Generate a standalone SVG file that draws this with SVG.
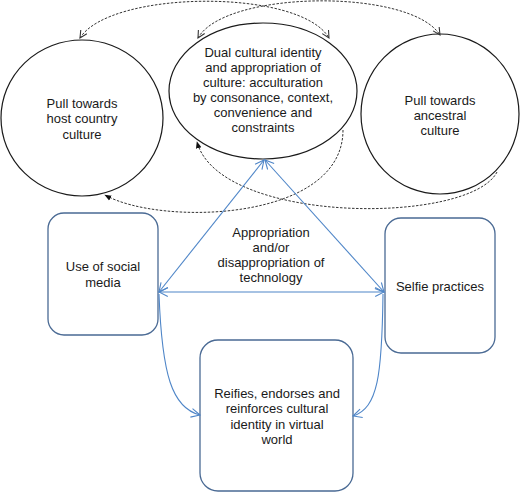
<svg xmlns="http://www.w3.org/2000/svg" width="520" height="493" viewBox="0 0 520 493">
<defs>
<style>
text{font-family:"Liberation Sans",Arial,sans-serif;font-size:13px;fill:#1a1a1a;text-anchor:middle}
.ell{fill:#fff;stroke:#1a1a1a;stroke-width:1.2}
.box{fill:#fff;stroke:#4a6a94;stroke-width:1.3}
.dash{fill:none;stroke:#333;stroke-width:1;stroke-dasharray:2.5,1.5}
.blue{fill:none;stroke:#4f86c8;stroke-width:1.1}
</style>
<marker id="vk" viewBox="0 0 10 10" refX="9" refY="5" markerWidth="9" markerHeight="9" markerUnits="userSpaceOnUse" orient="auto-start-reverse"><path d="M1,1 L9,5 L1,9" fill="none" stroke="#333" stroke-width="1.2"/></marker>
<marker id="fk" viewBox="0 0 10 10" refX="9" refY="5" markerWidth="7" markerHeight="7" markerUnits="userSpaceOnUse" orient="auto"><path d="M0,1 L10,5 L0,9 Z" fill="#111"/></marker>
<marker id="vb" viewBox="0 0 10 10" refX="9" refY="5" markerWidth="11" markerHeight="11" markerUnits="userSpaceOnUse" orient="auto-start-reverse"><path d="M1,1 L9,5 L1,9" fill="none" stroke="#4f86c8" stroke-width="1"/></marker>
</defs>
<g id="n-host">
<ellipse class="ell" cx="82" cy="118" rx="81" ry="78"/>
<text x="82" y="108">Pull towards</text>
<text x="82" y="123">host country</text>
<text x="82" y="139">culture</text>
</g>
<g id="n-ancestral">
<ellipse class="ell" cx="440" cy="114" rx="79" ry="80"/>
<text x="440" y="105">Pull towards</text>
<text x="440" y="120">ancestral</text>
<text x="440" y="135">culture</text>
</g>
<g id="n-dual">
<ellipse class="ell" cx="263" cy="91" rx="94" ry="68"/>
<text x="263" y="57">Dual cultural identity</text>
<text x="263" y="72">and appropriation of</text>
<text x="263" y="87">culture: acculturation</text>
<text x="263" y="102">by consonance, context,</text>
<text x="263" y="117">convenience and</text>
<text x="263" y="132">constraints</text>
</g>
<g id="n-social">
<rect class="box" x="48" y="213" width="110" height="122" rx="16"/>
<text x="103" y="271">Use of social</text>
<text x="103" y="287">media</text>
</g>
<g id="n-selfie">
<rect class="box" x="385" y="218" width="110" height="135" rx="16"/>
<text x="440" y="291">Selfie practices</text>
</g>
<g id="n-reifies">
<rect class="box" x="200" y="340" width="153" height="151" rx="18"/>
<text x="277" y="398">Reifies, endorses and</text>
<text x="277" y="413">reinforces cultural</text>
<text x="277" y="429">identity in virtual</text>
<text x="277" y="444">world</text>
</g>
<g id="label">
<text x="271" y="237">Appropriation</text>
<text x="271" y="252">and/or</text>
<text x="271" y="267">disappropriation of</text>
<text x="271" y="282">technology</text>
</g>
<g id="connectors">
<path class="dash" d="M80,38 C110,-10 300,-12 329,38" marker-start="url(#vk)" marker-end="url(#vk)"/>
<path class="dash" d="M198,38 C225,-10 410,-12 440,35" marker-start="url(#vk)" marker-end="url(#vk)"/>
<path class="dash" d="M343,130 C343,222 160,226 105,195" marker-end="url(#fk)"/>
<path class="dash" d="M497,172 C470,225 220,225 197,142" marker-end="url(#fk)"/>
<path class="blue" d="M159,292 L264,160" marker-start="url(#vb)" marker-end="url(#vb)"/>
<path class="blue" d="M384,292 L265,160" marker-start="url(#vb)" marker-end="url(#vb)"/>
<path class="blue" d="M159,292 L384,292" marker-start="url(#vb)" marker-end="url(#vb)"/>
<path class="blue" d="M159,294 C162,375 172,408 200,415" marker-end="url(#vb)"/>
<path class="blue" d="M383,294 C382,375 378,408 353,416" marker-end="url(#vb)"/>
</g>
</svg>
